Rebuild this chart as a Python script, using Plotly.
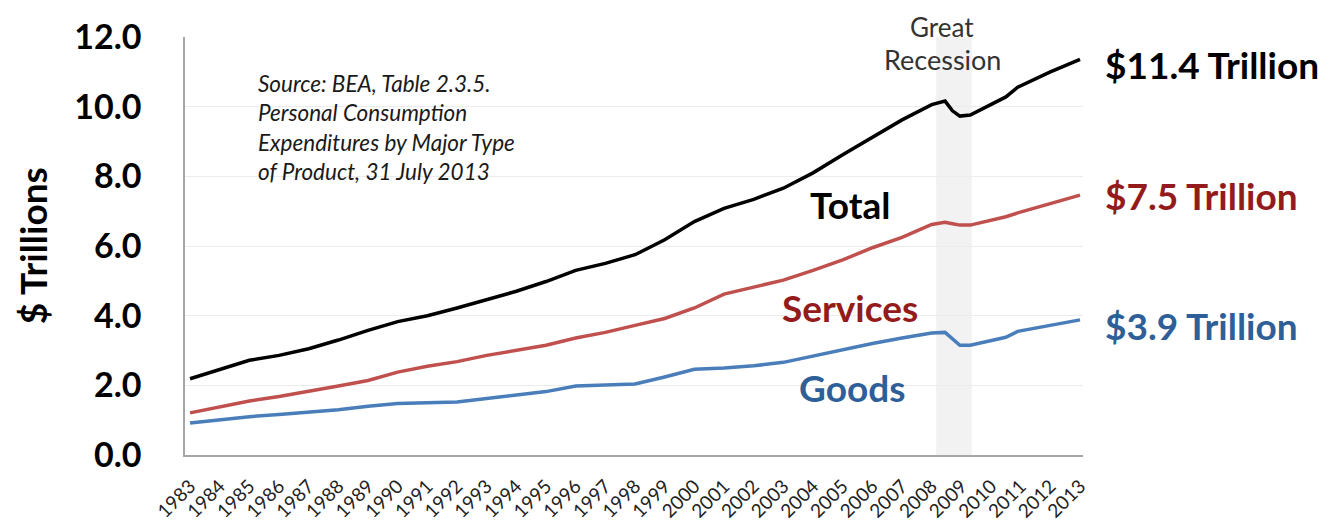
import plotly.graph_objects as go

# Decimal-year positions of the readings (Jan of each year, plus points around the recession)
years = [1983, 1984, 1985, 1986, 1987, 1988, 1989, 1990, 1991, 1992, 1993, 1994, 1995,
         1996, 1997, 1998, 1999, 2000, 2001, 2002, 2003, 2004, 2005, 2006, 2007, 2008,
         2008.45, 2008.7, 2008.95, 2009.3, 2010, 2010.5, 2010.9, 2012, 2013]

total = [2.19, 2.45, 2.72, 2.86, 3.05, 3.30, 3.58, 3.83, 4.00, 4.22, 4.45, 4.70, 4.98,
         5.30, 5.50, 5.75, 6.18, 6.70, 7.08, 7.34, 7.66, 8.10, 8.62, 9.12, 9.62, 10.06,
         10.16, 9.88, 9.73, 9.76, 10.05, 10.28, 10.56, 11.00, 11.36]

services = [1.21, 1.38, 1.55, 1.68, 1.82, 1.98, 2.14, 2.38, 2.55, 2.68, 2.86, 3.00, 3.15,
            3.36, 3.52, 3.72, 3.92, 4.22, 4.62, 4.82, 5.02, 5.30, 5.60, 5.95, 6.25, 6.62,
            6.68, 6.64, 6.60, 6.60, 6.74, 6.84, 6.95, 7.22, 7.46]

goods = [0.92, 1.02, 1.10, 1.16, 1.22, 1.30, 1.40, 1.48, 1.50, 1.52, 1.62, 1.72, 1.82,
         1.98, 2.00, 2.04, 2.24, 2.46, 2.50, 2.56, 2.66, 2.84, 3.04, 3.20, 3.36, 3.50,
         3.52, 3.32, 3.15, 3.15, 3.28, 3.38, 3.55, 3.72, 3.88]

tick_years = list(range(1983, 2014))
tick_labels = [str(y) for y in tick_years]
recession = [2008.15, 2009.35]

FONT = "Lato"
RED_TXT = "#941b1b"
BLUE_TXT = "#2f5f98"

fig = go.Figure()
fig.add_trace(go.Scatter(x=years, y=total, mode="lines", line=dict(color="#000000", width=3.5),
                         name="Total", showlegend=False))
fig.add_trace(go.Scatter(x=years, y=services, mode="lines", line=dict(color="#c0504d", width=3.5),
                         name="Services", showlegend=False))
fig.add_trace(go.Scatter(x=years, y=goods, mode="lines", line=dict(color="#4a7ebb", width=3.5),
                         name="Goods", showlegend=False))

fig.add_shape(type="rect", xref="x", yref="y", x0=recession[0], x1=recession[1], y0=0, y1=12,
              fillcolor="#f2f2f2", line=dict(width=0), layer="below")

anns = [
    dict(text="Great", x=2008.35, y=1.067, yref="paper", yanchor="top",
         font=dict(size=26, color="#333333", family=FONT)),
    dict(text="Recession", x=2008.35, y=0.945, yref="paper", yanchor="middle",
         font=dict(size=27, color="#333333", family=FONT)),
    dict(text="<b>Total</b>", x=2005.24, y=7.2, font=dict(size=37, color="#000000", family=FONT)),
    dict(text="<b>Services</b>", x=2005.24, y=4.23, font=dict(size=37, color=RED_TXT, family=FONT)),
    dict(text="<b>Goods</b>", x=2005.3, y=1.94, font=dict(size=37, color=BLUE_TXT, family=FONT)),
    dict(text="<b>$11.4 Trillion</b>", x=1.0223, xref="paper", y=11.2, xanchor="left",
         font=dict(size=37, color="#000000", family=FONT)),
    dict(text="<b>$7.5 Trillion</b>", x=1.0223, xref="paper", y=7.46, xanchor="left",
         font=dict(size=37, color=RED_TXT, family=FONT)),
    dict(text="<b>$3.9 Trillion</b>", x=1.0223, xref="paper", y=3.73, xanchor="left",
         font=dict(size=37, color=BLUE_TXT, family=FONT)),
    dict(text="<i>Source: BEA, Table 2.3.5.<br>Personal Consumption<br>Expenditures by Major Type<br>of Product, 31 July 2013</i>",
         x=1985.22, y=11.12, xanchor="left", yanchor="top", align="left",
         font=dict(size=22.5, color="#1a1a1a", family=FONT)),
    dict(text="<b>$ Trillions</b>", x=-0.17, xref="paper", y=0.50, yref="paper",
         textangle=-90, font=dict(size=37, color="#000000", family=FONT)),
]
for a in anns:
    a.setdefault("xref", "x")
    a.setdefault("yref", "y")
    a.setdefault("xanchor", "center")
    a.setdefault("showarrow", False)
    fig.add_annotation(**a)

# the page body adds an 8px offset; the figure is sized to fit inside the window
fig.update_layout(
    width=1333, height=523,
    margin=dict(l=177, r=258, t=29, b=76, autoexpand=False),
    plot_bgcolor="white", paper_bgcolor="white",
    font=dict(family=FONT, color="#000000"),
)
fig.update_xaxes(range=[1982.83, 2013.1], tickmode="array", tickvals=tick_years, ticktext=tick_labels,
                 tickangle=-45, tickfont=dict(size=19, color="#222222", family=FONT),
                 ticklabelstandoff=11, automargin=False,
                 showgrid=False, showline=True, linecolor="#a6a6a6", linewidth=1.5,
                 ticks="", zeroline=False)
fig.update_yaxes(range=[0, 12], dtick=2, tickformat=".1f",
                 tickfont=dict(size=34, color="#000000", family=FONT, weight="bold"),
                 showgrid=True, gridcolor="#ececec", gridwidth=1, automargin=False,
                 showline=True, linecolor="#a6a6a6", linewidth=1.5, zeroline=False,
                 ticklabelstandoff=35)

fig.write_html("out.html")
